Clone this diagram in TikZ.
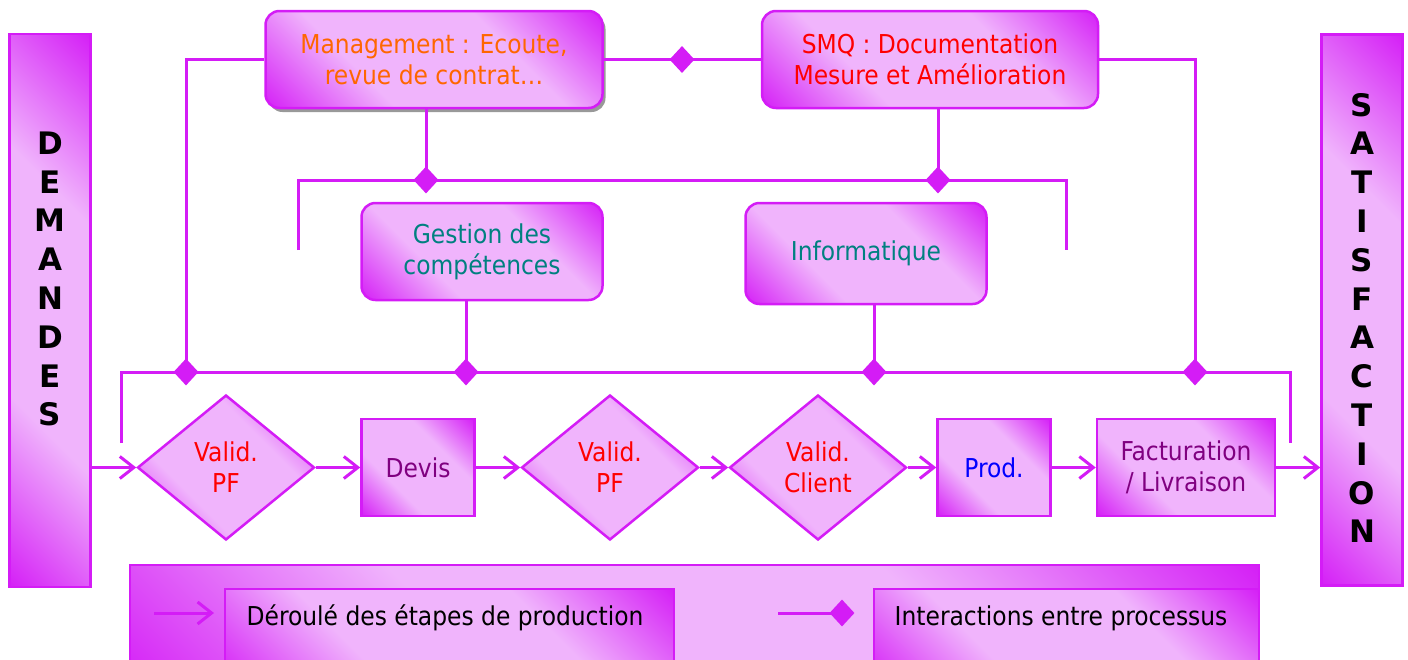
\documentclass[tikz,border=0pt]{standalone}
\usepackage{fontspec}
\setmainfont{DejaVu Sans Condensed}
\newfontfamily\letterfont{DejaVu Sans}
\usetikzlibrary{arrows.meta,shapes.geometric,shadows}
\definecolor{mag}{RGB}{212,28,246}
\definecolor{pale}{RGB}{240,180,252}
\definecolor{txorange}{RGB}{255,102,0}
\definecolor{txteal}{RGB}{0,128,128}
\definecolor{txpurple}{RGB}{128,0,128}
\definecolor{txred}{RGB}{255,0,0}
\definecolor{txblue}{RGB}{0,0,255}
\pgfdeclareverticalshading{magband}{100bp}{color(0bp)=(mag); color(14bp)=(mag); color(36bp)=(pale); color(64bp)=(pale); color(86bp)=(mag); color(100bp)=(mag)}
\tikzset{
  proc/.style={draw=mag, line width=2.5pt, shading=magband, shading angle=-45, inner sep=0pt, align=center, font=\fontsize{26}{31}\selectfont},
  rbox/.style={proc, rounded corners=14pt},
  dia/.style={proc, diamond, text=txred},
  link/.style={draw=mag, line width=3pt},
  flow/.style={link, -{Straight Barb[length=14pt,width=22pt]}},
  jn/.style={diamond, fill=mag, draw=none, minimum width=25pt, minimum height=27pt, inner sep=0pt},
  letters/.style={font=\letterfont\bfseries\fontsize{31}{38.8}\selectfont, align=center, inner sep=0pt},
  legtxt/.style={font=\fontsize{26}{30}\selectfont, inner sep=0pt},
}
\begin{document}
\begin{tikzpicture}[x=1pt,y=-1pt]
\useasboundingbox (0,0) rectangle (1408,659);
\clip (0,0) rectangle (1408,659);
% side bars
\node[proc, minimum width=81pt, minimum height=553pt] (dem) at (50,310.5) {};
\node[letters] (demtxt) at (50,279) {D\\E\\M\\A\\N\\D\\E\\S};
\node[proc, minimum width=81pt, minimum height=551pt] (sat) at (1362,310) {};
\node[letters] (sattxt) at (1362,318) {S\\A\\T\\I\\S\\F\\A\\C\\T\\I\\O\\N};
% top boxes
\node[rbox, minimum width=337pt, minimum height=97pt, text=txorange,
  drop shadow={shadow xshift=3pt, shadow yshift=-4pt, fill=gray!80, opacity=1}] (mgmt) at (434,59.5) {Management : Ecoute,\\revue de contrat…};
\node[rbox, minimum width=336pt, minimum height=97pt, text=txred] (smq) at (930,59.5) {SMQ : Documentation\\Mesure et Amélioration};
\node[rbox, minimum width=241pt, minimum height=97pt, text=txteal] (ges) at (482,251.5) {Gestion des\\compétences};
\node[rbox, minimum width=241pt, minimum height=101pt, text=txteal] (inf) at (866,253.5) {Informatique};
% flow
\node[dia, minimum width=177pt, minimum height=145pt] (d1) at (226,467.5) {Valid.\\PF};
\node[proc, minimum width=113pt, minimum height=97pt, text=txpurple] (devis) at (418,467.5) {Devis};
\node[dia, minimum width=177pt, minimum height=145pt] (d2) at (610,467.5) {Valid.\\PF};
\node[dia, minimum width=177pt, minimum height=145pt] (d3) at (818,467.5) {Valid.\\Client};
\node[proc, minimum width=113pt, minimum height=97pt, text=txblue] (prod) at (994,467.5) {Prod.};
\node[proc, minimum width=178pt, minimum height=97pt, text=txpurple] (fact) at (1186,467.5) {Facturation\\/ Livraison};
% coordinates
\coordinate (c0) at (682,59.5);
\coordinate (b1) at (186,372);
\coordinate (b2) at (466,372);
\coordinate (b3) at (874,372);
\coordinate (b4) at (1195,372);
\coordinate (bL) at (121,443);
\coordinate (bR) at (1290,443);
\coordinate (m1) at (426,180);
\coordinate (m2) at (938,180);
\coordinate (mL) at (298,250);
\coordinate (mR) at (1066,250);
% interaction lines
\draw[link] (mgmt.east) -- (smq.west);
\draw[link] (mgmt.west) -| (b1);
\draw[link] (smq.east) -| (b4);
\draw[link] (m1 |- mgmt.south) -- (m1);
\draw[link] (m2 |- smq.south) -- (m2);
\draw[link] (mL) -- (mL |- m1) -- (mR |- m1) -- (mR);
\draw[link] (b2 |- ges.south) -- (b2);
\draw[link] (b3 |- inf.south) -- (b3);
\draw[link] (bL) -- (bL |- b1) -- (bR |- b1) -- (bR);
\node[jn] (j0) at (c0) {};
\node[jn] (j1) at (m1) {};
\node[jn] (j2) at (m2) {};
\node[jn] (j3) at (b1) {};
\node[jn] (j4) at (b2) {};
\node[jn] (j5) at (b3) {};
\node[jn] (j6) at (b4) {};
% flow arrows
\draw[flow] (dem.east |- d1.west) -- (d1.west);
\draw[flow] (d1.east) -- (devis.west);
\draw[flow] (devis.east) -- (d2.west);
\draw[flow] (d2.east) -- (d3.west);
\draw[flow] (d3.east) -- (prod.west);
\draw[flow] (prod.east) -- (fact.west);
\draw[flow] (fact.east) -- (sat.west |- fact.east);
% legend
\node[proc, minimum width=1129pt, minimum height=124pt] (leg) at (694.5,627) {};
\node[proc, minimum width=449pt, minimum height=96pt] (leg1) at (449.5,637) {};
\node[proc, minimum width=385pt, minimum height=96pt] (leg2) at (1066.5,637) {};
\node[legtxt] (lt1) at (445,618) {Déroulé des étapes de production};
\node[legtxt] (lt2) at (1061,618) {Interactions entre processus};
\coordinate (la1) at (154,613);
\coordinate (la2) at (214,613);
\draw[flow] (la1) -- (la2);
\coordinate (ld1) at (778,613);
\coordinate (ld2) at (842,613);
\draw[link] (ld1) -- (ld2);
\node[jn] (jl) at (ld2) {};
\end{tikzpicture}
\end{document}
